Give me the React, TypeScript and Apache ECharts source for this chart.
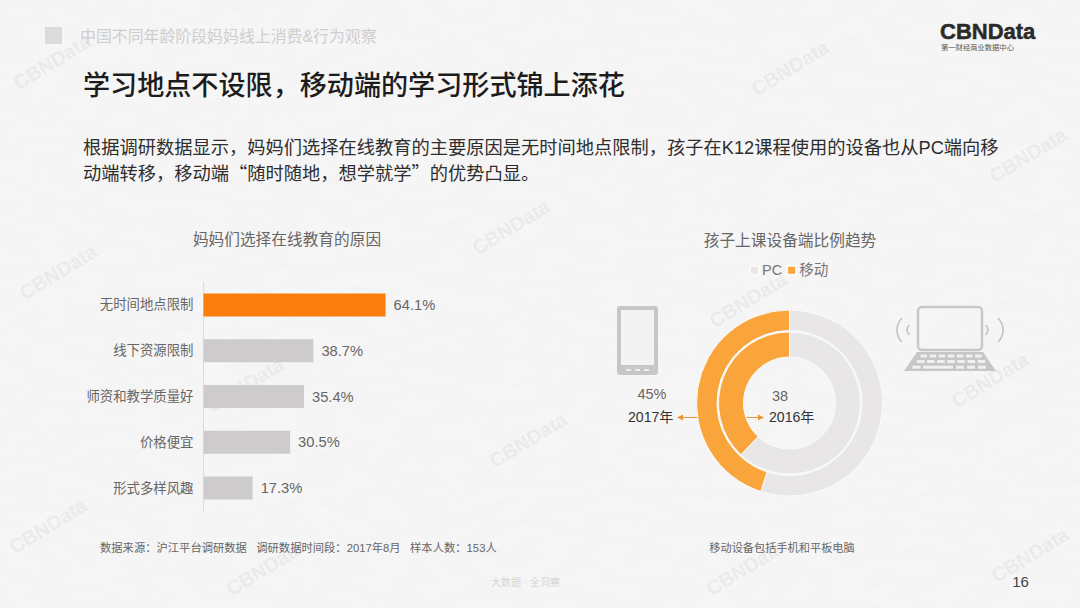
import React, { useEffect, useRef } from "react";
import * as echarts from "echarts";

const FONT = '"Liberation Sans","Noto Sans CJK SC",sans-serif';
const CJK_FONT = '"Noto Sans CJK SC",sans-serif';

const reasons = ["无时间地点限制", "线下资源限制", "师资和教学质量好", "价格便宜", "形式多样风趣"];
const reasonValues = [64.1, 38.7, 35.4, 30.5, 17.3];
const deviceNames = ["PC", "移动"];
const share2016 = [62, 38];
const share2017 = [55, 45];
const headerText = "中国不同年龄阶段妈妈线上消费&行为观察";
const titleText = "学习地点不设限，移动端的学习形式锦上添花";
const bodyLines = [
  "根据调研数据显示，妈妈们选择在线教育的主要原因是无时间地点限制，孩子在K12课程使用的设备也从PC端向移",
  "动端转移，移动端“随时随地，想学就学”的优势凸显。",
];
const sourceText = "数据来源：沪江平台调研数据   调研数据时间段：2017年8月   样本人数：153人";
const noteText = "移动设备包括手机和平板电脑";
const watermarks: [number, number][] = [
  [52, 62], [58, 272], [790, 68], [511, 227], [245, 385], [528, 440], [748, 300],
  [1028, 155], [990, 380], [1030, 555], [265, 568], [745, 568], [48, 526],
];

const ORANGE = "#f9a53b";
const BAR_ORANGE = "#fb7d0c";
const BAR_GREY = "#cdcbcc";
const RING_GREY = "#e8e6e7";
const ICON = "#c8c6c7";
const KEY = "#f1f0f0";
const BG = "#f5f4f4";

const paper =
  "url(\"data:image/svg+xml;utf8," +
  encodeURIComponent(
    "<svg xmlns='http://www.w3.org/2000/svg' width='1080' height='608'><filter id='n'><feTurbulence type='fractalNoise' baseFrequency='0.03 0.08' numOctaves='4' seed='7'/><feColorMatrix values='0 0 0 0 0.65 0 0 0 0 0.64 0 0 0 0 0.64 0.13 0 0 0 -0.04'/></filter><rect width='1080' height='608' fill='#f7f6f6'/><rect width='1080' height='608' filter='url(#n)'/></svg>"
  ) +
  "\")";

function text(x: number, y: number, t: string, size: number, fill: string, align = "left", extra: any = {}) {
  return {
    type: "text",
    x,
    y,
    silent: true,
    style: { text: t, fontSize: size, fill, fontFamily: FONT, textAlign: align, textVerticalAlign: "middle", ...extra },
  };
}

function arrow(x1: number, x2: number, y: number) {
  const d = x2 > x1 ? 1 : -1;
  return [
    { type: "line", silent: true, shape: { x1, y1: y, x2, y2: y }, style: { stroke: "#e8963a", lineWidth: 1 } },
    {
      type: "polygon",
      silent: true,
      shape: { points: [[x2 + d * 3, y], [x2 - d * 3, y - 3], [x2 - d * 3, y + 3]] },
      style: { fill: "#e8963a" },
    },
  ];
}

function phoneIcon() {
  const dashes = [626, 635, 644].map((x) => ({
    type: "rect", silent: true, shape: { x, y: 369, width: 5, height: 2 }, style: { fill: "#eeeded" },
  }));
  return [
    { type: "rect", silent: true, shape: { x: 617, y: 306, width: 41, height: 69, r: 3 }, style: { fill: ICON } },
    { type: "rect", silent: true, shape: { x: 621, y: 310, width: 33, height: 55 }, style: { fill: "#f4f3f3" } },
    ...dashes,
  ];
}

function laptopIcon() {
  // [cx, r] of each signal arc
  const arcs: [number, number][] = [[913, 6], [914, 17], [982, 6], [986, 17]];
  const key = (x: number, y: number, width: number) => ({
    type: "rect", silent: true, shape: { x, y, width, height: 3 }, style: { fill: KEY },
  });
  const keys: any[] = [];
  for (let i = 0; i < 7; i++) keys.push(key(920.5 + i * 9.1, 354.5, 6.5));
  for (let i = 0; i < 7; i++) keys.push(key(917 + i * 10.1, 360, 7.5));
  keys.push(key(912.5, 365.7, 8), key(923, 365.7, 30));
  for (let i = 0; i < 3; i++) keys.push(key(956 + i * 11, 365.7, 8));
  return [
    {
      type: "rect", silent: true,
      shape: { x: 918, y: 307, width: 64, height: 43, r: 4 },
      style: { fill: "transparent", stroke: ICON, lineWidth: 2.4 },
    },
    {
      type: "polygon", silent: true,
      shape: { points: [[917, 352], [983, 352], [996, 371], [904, 371]] },
      style: { fill: ICON },
    },
    ...keys,
    ...arcs.map(([cx, r]) => {
      const left = cx < 950;
      const a = r > 10 ? 0.78 : 0.95;
      return {
        type: "arc", silent: true,
        shape: {
          cx, cy: 330, r,
          startAngle: left ? Math.PI - a : -a,
          endAngle: left ? Math.PI + a : a,
          clockwise: true,
        },
        style: { stroke: ICON, lineWidth: 1.8, fill: "transparent" },
      };
    }),
  ];
}

export default function App() {
  const ref = useRef<HTMLDivElement>(null);

  useEffect(() => {
    document.body.style.margin = "0";
    const chart = echarts.init(ref.current!, null, { renderer: "svg" });
    chart.setOption({
      animation: false,
      backgroundColor: "transparent",
      textStyle: { fontFamily: FONT },
      grid: { left: 203.5, top: 282, width: 284, height: 229, containLabel: false },
      xAxis: { type: "value", min: 0, max: 100, show: false },
      yAxis: {
        type: "category",
        inverse: true,
        data: reasons,
        axisTick: { show: false },
        axisLine: { lineStyle: { color: "#dcdbdb", width: 1 } },
        axisLabel: { color: "#666", fontSize: 13.4, margin: 10, fontFamily: FONT },
      },
      legend: {
        data: deviceNames,
        left: 744,
        top: 258,
        icon: "rect",
        itemWidth: 9,
        itemHeight: 9,
        itemGap: 4,
        textStyle: { color: "#777", fontSize: 14.5, fontFamily: FONT, padding: [0, 0, 0, -2] },
      },
      series: [
        {
          type: "bar",
          data: reasonValues.map((v, i) => ({
            value: v,
            itemStyle: { color: i === 0 ? BAR_ORANGE : BAR_GREY },
          })),
          barWidth: 23,
          label: {
            show: true,
            position: "right",
            distance: 8,
            color: "#666",
            fontSize: 14.7,
            fontFamily: FONT,
            formatter: (p: any) => p.value.toFixed(1) + "%",
          },
        },
        {
          type: "pie",
          center: [789.5, 403],
          radius: [46, 71],
          startAngle: 90,
          clockwise: true,
          silent: true,
          label: { show: false },
          labelLine: { show: false },
          itemStyle: { borderColor: "#fbfafa", borderWidth: 1 },
          data: deviceNames.map((n, i) => ({
            name: n,
            value: share2016[i],
            itemStyle: { color: i === 0 ? RING_GREY : ORANGE },
          })),
        },
        {
          type: "pie",
          center: [789.5, 403],
          radius: [72.5, 93],
          startAngle: 90,
          clockwise: true,
          silent: true,
          label: { show: false },
          labelLine: { show: false },
          itemStyle: { borderColor: "#fbfafa", borderWidth: 1 },
          data: deviceNames.map((n, i) => ({
            name: n,
            value: share2017[i],
            itemStyle: { color: i === 0 ? RING_GREY : ORANGE },
          })),
        },
      ],
      graphic: {
        elements: [
          ...watermarks.map(([x, y]) => ({
            type: "text", x, y, rotation: 0.55, silent: true, z: -10,
            style: {
              text: "CBNData", fontSize: 20, fontWeight: "bold", fontFamily: FONT,
              fill: "rgba(190,188,188,0.2)", textAlign: "center", textVerticalAlign: "middle",
            },
          })),
          { type: "rect", silent: true, shape: { x: 45, y: 27, width: 17, height: 17 }, style: { fill: "#dcdadb" } },
          text(80, 36, headerText, 15.9, "#cfcdce"),
          text(83, 85, titleText, 27.1, "#1c1c1c", "left", { fontWeight: 500 }),
          text(83, 147, bodyLines[0], 18.25, "#2e2e2e"),
          text(83, 172, bodyLines[1], 18.25, "#2e2e2e", "left", { fontFamily: CJK_FONT }),
          text(287, 239, "妈妈们选择在线教育的原因", 15.7, "#666", "center"),
          text(790, 240, "孩子上课设备端比例趋势", 15.7, "#666", "center"),
          text(100, 548, sourceText, 11.3, "#666"),
          text(782, 548, noteText, 11.2, "#666", "center"),
          text(491, 582, "大数据 · 全洞察", 10, "#d8d6d6"),
          text(1020.5, 581, "16", 15, "#444", "center"),
          text(940, 31, "CBNData", 22, "#2a2a2a", "left", { fontWeight: "bold", stroke: "#2a2a2a", lineWidth: 0.5 }),
          text(941, 47, "第一财经商业数据中心", 7.3, "#555"),
          text(652, 394, "45%", 14.5, "#666", "center"),
          text(628, 417, "2017年", 14.1, "#333"),
          text(780, 396, "38", 14.5, "#666", "center"),
          text(769, 417, "2016年", 14.1, "#333"),
          ...arrow(700, 680, 417.5),
          ...arrow(733, 761, 417.5),
          ...phoneIcon(),
          ...laptopIcon(),
        ],
      },
    });
    return () => chart.dispose();
  }, []);

  return (
    <div style={{ width: 1080, height: 608, backgroundColor: BG, backgroundImage: paper, overflow: "hidden" }}>
      <div ref={ref} style={{ width: 1080, height: 608 }} />
    </div>
  );
}
